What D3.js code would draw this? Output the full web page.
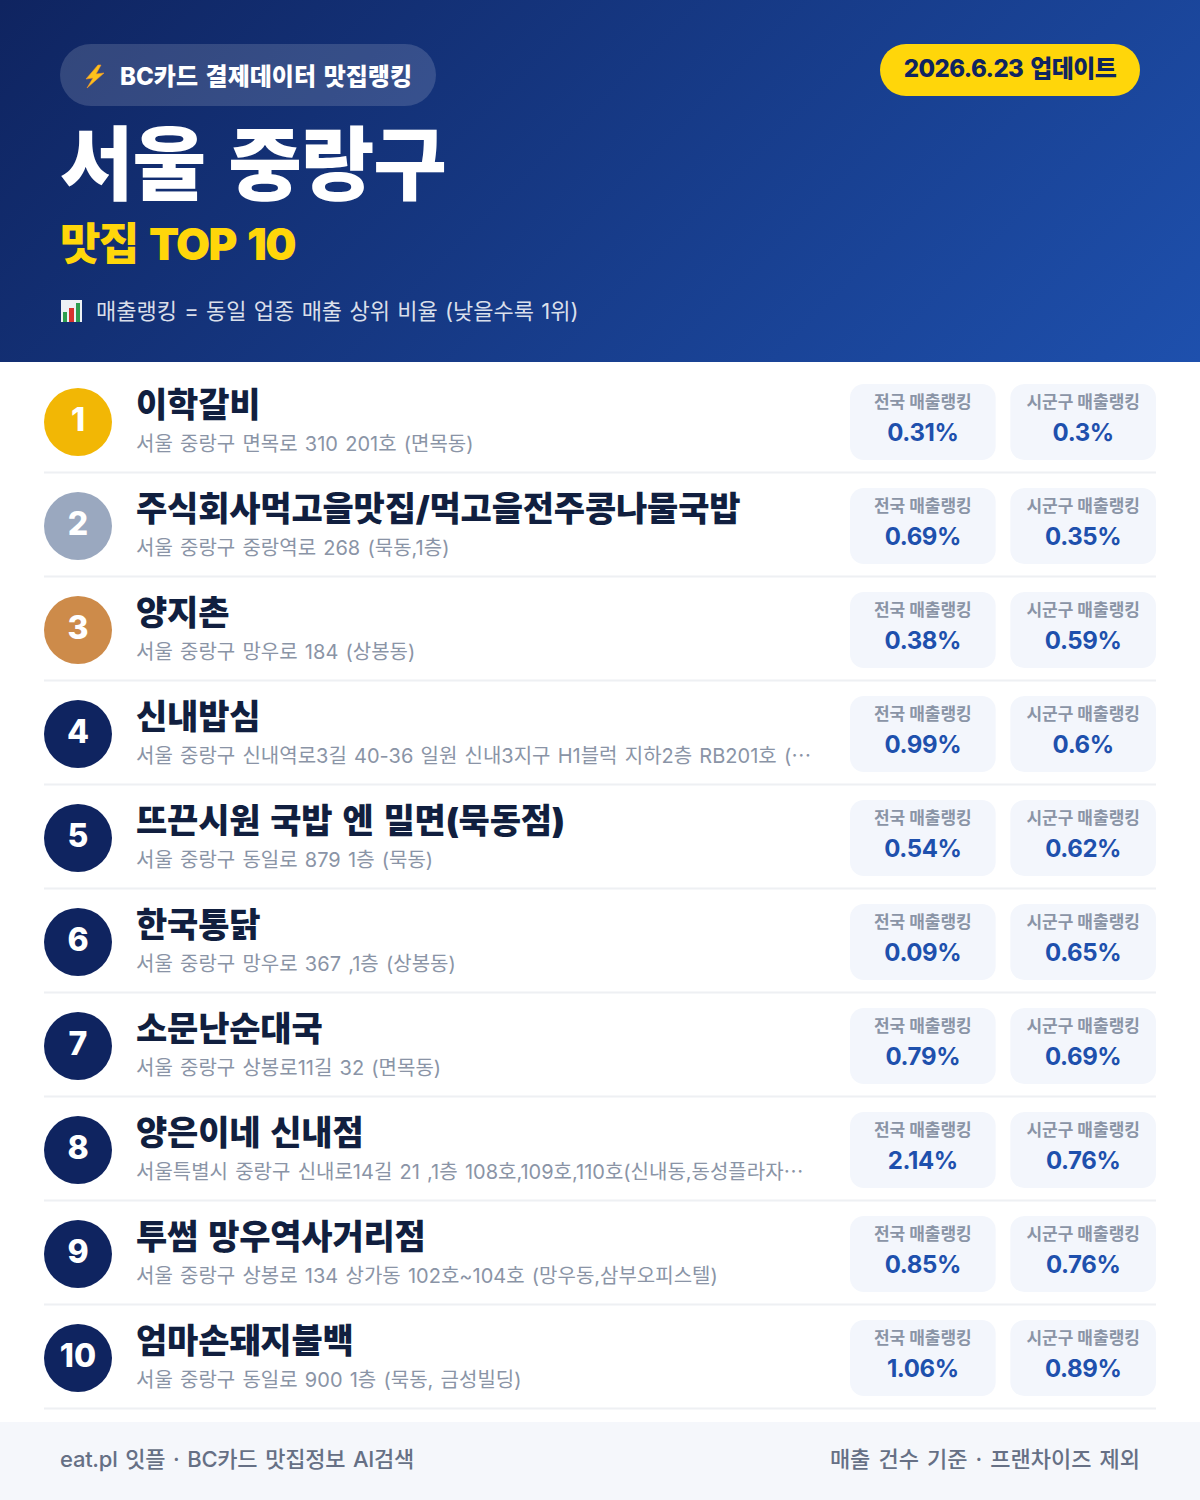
<!DOCTYPE html>
<html>
<head>
<meta charset="utf-8">
<script src="https://cdn.jsdelivr.net/npm/d3@7"></script>
<style>
  html, body { margin: 0; padding: 0; background: #fff; }
  svg { display: block; }
  text { font-family: Inter, "Noto Sans CJK KR", sans-serif; word-spacing: 0.1em; }
</style>
</head>
<body>
<div id="vis"></div>
<script>
// Data
let ranks = [1, 2, 3, 4, 5, 6, 7, 8, 9, 10];
let names = ['이학갈비', '주식회사먹고을맛집/먹고을전주콩나물국밥', '양지촌', '신내밥심', '뜨끈시원 국밥 엔 밀면(묵동점)',
  '한국통닭', '소문난순대국', '양은이네 신내점', '투썸 망우역사거리점', '엄마손돼지불백'];
let addresses = ['서울 중랑구 면목로 310 201호 (면목동)', '서울 중랑구 중랑역로 268 (묵동,1층)', '서울 중랑구 망우로 184 (상봉동)',
  '서울 중랑구 신내역로3길 40-36 일원 신내3지구 H1블럭 지하2층 RB201호 (⋯', '서울 중랑구 동일로 879 1층 (묵동)',
  '서울 중랑구 망우로 367 ,1층 (상봉동)', '서울 중랑구 상봉로11길 32 (면목동)',
  '서울특별시 중랑구 신내로14길 21 ,1층 108호,109호,110호(신내동,동성플라자⋯', '서울 중랑구 상봉로 134 상가동 102호~104호 (망우동,삼부오피스텔)',
  '서울 중랑구 동일로 900 1층 (묵동, 금성빌딩)'];
let nationalRank = ['0.31%', '0.69%', '0.38%', '0.99%', '0.54%', '0.09%', '0.79%', '2.14%', '0.85%', '1.06%'];
let districtRank = ['0.3%', '0.35%', '0.59%', '0.6%', '0.62%', '0.65%', '0.69%', '0.76%', '0.76%', '0.89%'];
let cardLabels = ['전국 매출랭킹', '시군구 매출랭킹'];
let medalColors = ['#f2b705', '#9aa8bf', '#cd8b4a'];

let width = 1200,
    height = 1500;

let svg = d3.select('#vis')
            .append('svg')
            .attr('width', width)
            .attr('height', height);

// Header gradient
let grad = svg.append('defs').append('linearGradient')
    .attr('id', 'head')
    .attr('gradientUnits', 'userSpaceOnUse')
    .attr('x1', 209.5).attr('y1', -209.5)
    .attr('x2', 990.5).attr('y2', 571.5);
grad.append('stop').attr('offset', '0%').attr('stop-color', '#0f2460');
grad.append('stop').attr('offset', '100%').attr('stop-color', '#1e50ad');

svg.append('rect').attr('width', width).attr('height', 362).attr('fill', 'url(#head)');

function label(parent, x, y, str, size, weight, fill, anchor, spacing) {
  return parent.append('text')
      .attr('x', x)
      .attr('y', y)
      .text(str)
      .style('font-size', size + 'px')
      .style('font-weight', weight)
      .style('fill', fill)
      .style('text-anchor', anchor || 'start')
      .style('letter-spacing', (spacing || 0) + 'px');
}

// Header pills and titles
svg.append('rect').attr('x', 60).attr('y', 44).attr('width', 376).attr('height', 62).attr('rx', 31)
    .attr('fill', '#fff').attr('fill-opacity', 0.15);
svg.append('path')
    .attr('d', 'M98 65 L86 79 L93 78 L87 88 L104 73 L96 74 L101 65 Z')
    .attr('fill', '#fcc21b').attr('stroke', '#f79329').attr('stroke-width', 0.6);
label(svg, 120, 85, 'BC카드 결제데이터 맛집랭킹', 24, 800, '#fff');

svg.append('rect').attr('x', 880).attr('y', 44).attr('width', 260).attr('height', 52).attr('rx', 26)
    .attr('fill', '#ffd60a');
label(svg, 1010, 77, '2026.6.23 업데이트', 24, 800, '#0f2460', 'middle', -0.6);

label(svg, 60, 193, '서울 중랑구', 80, 900, '#fff', 'start', -1);
label(svg, 60, 260, '맛집 TOP 10', 44, 900, '#ffd60a', 'start', -1.7);

// Bar chart icon
let icon = svg.append('g');
icon.append('rect').attr('x', 61).attr('y', 300).attr('width', 21).attr('height', 22).attr('fill', '#eef1f5');
icon.append('rect').attr('x', 63).attr('y', 312).attr('width', 4).attr('height', 10).attr('fill', '#2e9e4f');
icon.append('rect').attr('x', 69).attr('y', 308).attr('width', 5).attr('height', 14).attr('fill', '#d8322e');
icon.append('rect').attr('x', 76).attr('y', 303).attr('width', 4).attr('height', 19).attr('fill', '#2e9e4f');
label(svg, 96, 319, '매출랭킹 = 동일 업종 매출 상위 비율 (낮을수록 1위)', 22, 400, '#fff')
    .style('fill-opacity', 0.85)
    .style('word-spacing', '0.05em');

// Row layout
let rowScale = d3.scaleBand()
    .domain(ranks)
    .range([369, 1409]);

let cardX = d3.scaleBand()
    .domain(cardLabels)
    .range([850, 1156])
    .paddingInner(14 / 153);

let rows = svg.selectAll('.row')
    .data(ranks)
    .enter()
    .append('g')
    .attr('class', 'row')
    .attr('transform', d => `translate(0, ${rowScale(d)})`);

rows.append('rect').attr('x', 44).attr('y', 102.5).attr('width', 1112).attr('height', 2).attr('fill', '#eef0f3');

rows.append('circle')
    .attr('cx', 78).attr('cy', 53).attr('r', 34)
    .attr('fill', (d, i) => medalColors[i] || '#0f2460');

rows.append('text')
    .attr('x', 78).attr('y', 61.5)
    .text(d => d)
    .style('font-size', '32px')
    .style('font-weight', 800)
    .style('fill', '#fff')
    .style('text-anchor', 'middle');

rows.each(function(d, i) {
  let row = d3.select(this);
  label(row, 136, 48, names[i], 34, 900, '#111f3f', 'start', -0.2);
  label(row, 136, 82, addresses[i], 20, 400, '#8a94a6').style('word-spacing', '0.08em');

  cardLabels.forEach(function(c, j) {
    let x = cardX(c), w = cardX.bandwidth();
    row.append('rect')
        .attr('x', x).attr('y', 15).attr('width', w).attr('height', 76).attr('rx', 14)
        .attr('fill', '#f3f6fc');
    label(row, x + w / 2, 38.5, c, 17, 700, '#8a94a6', 'middle', 0).style('word-spacing', '0');
    label(row, x + w / 2, 72, (j === 0 ? nationalRank : districtRank)[i], 24, 700, '#1e50ad', 'middle', -0.4);
  });
});

// Footer
svg.append('rect').attr('x', 0).attr('y', 1422).attr('width', width).attr('height', 78).attr('fill', '#f5f7fb');
label(svg, 60, 1467, 'eat.pl 잇플 · BC카드 맛집정보 AI검색', 22, 500, '#667085', 'start', -0.25);
label(svg, 1140, 1467, '매출 건수 기준 · 프랜차이즈 제외', 22, 500, '#667085', 'end', 0);
</script>
</body>
</html>
